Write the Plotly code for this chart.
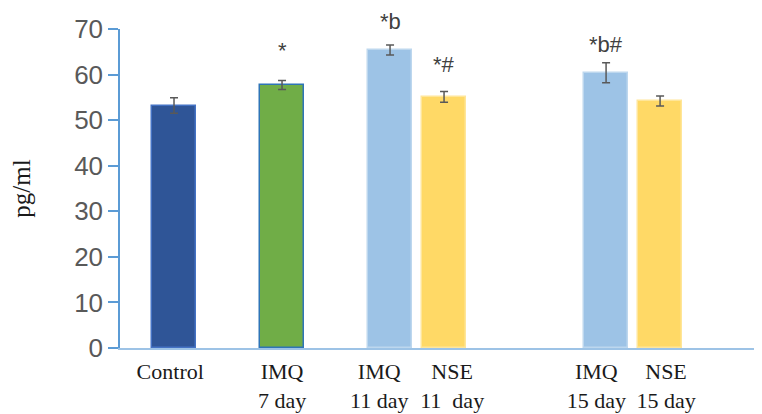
import plotly.graph_objects as go

labels = ["Control", "IMQ<br>7 day", "IMQ<br>11 day", "NSE<br>11  day", "IMQ<br>15 day", "NSE<br>15 day"]
slots = [0, 2, 4, 5, 8, 9]
label_shift = [-0.07, 0.0, -0.2, 0.15, -0.18, 0.11]
values = [53.2, 57.7, 65.4, 55.1, 60.4, 54.2]
errors = [1.7, 1.0, 1.1, 1.2, 2.2, 1.1]
marks = ["", "*", "*b", "*#", "*b#", ""]
mark_y = [None, 65.2, 71.7, 62.3, 66.7, None]
tick_vals = [0, 10, 20, 30, 40, 50, 60, 70]
y_max = 70

colors = ["#2F5597", "#70AD47", "#9DC3E6", "#FFD966", "#9DC3E6", "#FFD966"]
outlines = ["#4472C4", "#2E75B6", "#BDD7EE", "#FFE699", "#BDD7EE", "#FFE699"]

fig = go.Figure()
fig.add_trace(go.Bar(
    x=slots, y=values, width=0.81,
    marker=dict(color=colors, line=dict(color=outlines, width=1.5)),
    error_y=dict(type="data", array=errors, visible=True, color="#595959", thickness=1.5, width=4),
    showlegend=False,
))

for s, m, my in zip(slots, marks, mark_y):
    if m:
        fig.add_annotation(x=s, y=my / y_max, text=m, showarrow=False, xref="x", yref="paper",
                           font=dict(family="Liberation Sans, Arial", size=22, color="#404040"),
                           yanchor="middle")

fig.update_layout(
    width=762, height=414,
    margin=dict(l=112, r=10, t=21, b=74),
    plot_bgcolor="white", paper_bgcolor="white",
    bargap=0,
)
fig.update_xaxes(
    range=[-1, 10.85], tickvals=[s + d for s, d in zip(slots, label_shift)], ticktext=labels,
    tickangle=0, automargin=False,
    showline=True, linecolor="#9DC3E6", linewidth=2, ticks="outside", ticklen=3, tickcolor="rgba(0,0,0,0)",
    showgrid=False, zeroline=False,
    tickfont=dict(family="Liberation Serif, Times New Roman", size=22, color="#1a1a1a"),
)
fig.update_yaxes(
    range=[0, y_max], tickvals=tick_vals, automargin=False,
    showline=True, linecolor="#5B9BD5", linewidth=1.5, ticks="outside", ticklen=10,
    tickcolor="#5B9BD5", tickwidth=1.5, showgrid=False, zeroline=False,
    tickfont=dict(family="Liberation Sans, Arial", size=26, color="#595959"),
    title=dict(text="pg/ml", font=dict(family="Liberation Serif, Times New Roman", size=25, color="#1a1a1a"), standoff=43),
)

fig.write_html("out.html")
